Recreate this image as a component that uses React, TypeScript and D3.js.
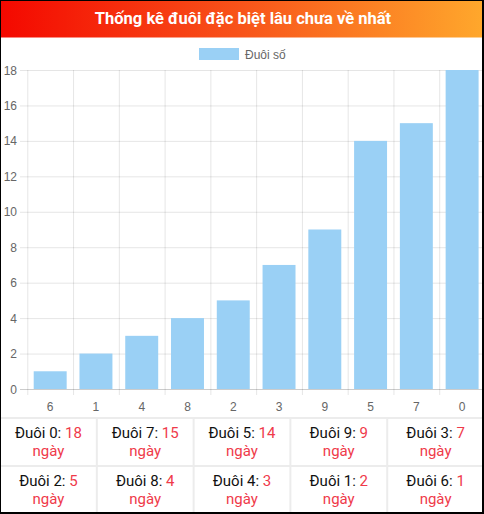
import React from "react";
import * as d3 from "d3";

const categories: string[] = ["6", "1", "4", "8", "2", "3", "9", "5", "7", "0"];
const values: number[] = [1, 2, 3, 4, 5, 7, 9, 14, 15, 18];
const yTicks: number[] = [0, 2, 4, 6, 8, 10, 12, 14, 16, 18];
const title = "Thống kê đuôi đặc biệt lâu chưa về nhất";
const legendLabel = "Đuôi số";

const W = 484;
const H = 514;
const plotLeft = 27.3;
const plotRight = 485;
const plotTop = 70;
const plotBottom = 389;
const barColor = "rgb(154,208,245)";
const gridColor = "rgba(0,0,0,0.1)";
const redText = "#ef3a4a";

export default function App() {
  React.useEffect(() => {
    document.body.style.margin = "0";
  }, []);

  const x = d3.scaleBand<string>().domain(categories).range([plotLeft, plotRight]).paddingInner(0).paddingOuter(0);
  const y = d3.scaleLinear().domain([0, 18]).range([plotBottom, plotTop]);
  const bw = x.bandwidth();
  const barW = bw * 0.72;

  // table: sorted by value descending
  const rows = categories
    .map((c, i) => ({ c, v: values[i] }))
    .sort((a, b) => b.v - a.v);
  const cols = 5;
  const tableTop = 418;
  const rowH = 48;
  const colX = d3.scaleLinear().domain([0, cols]).range([0, W]);

  const font = "Roboto, 'Liberation Sans', Arial, sans-serif";
  const chartFont = "'Liberation Sans', Arial, Helvetica, sans-serif";

  return (
    <svg width={W} height={H} style={{ position: "absolute", left: 0, top: 0, display: "block" }}>
      <defs>
        <linearGradient id="hdr" x1="0" x2="1" y1="0" y2="0">
          <stop offset="0%" stopColor="#f40800" />
          <stop offset="50%" stopColor="#f8541a" />
          <stop offset="100%" stopColor="#ffa82c" />
        </linearGradient>
        <clipPath id="clip">
          <rect x={0} y={0} width={W} height={H} />
        </clipPath>
      </defs>
      <rect x={0} y={0} width={W} height={H} fill="#fff" />
      <rect x={0} y={0} width={W} height={37.5} fill="url(#hdr)" />
      <text x={243} y={24} textAnchor="middle" fill="#fff" fontFamily={font} fontWeight="bold" fontSize={16.5}>
        {title}
      </text>

      {/* legend */}
      <rect x={199} y={48} width={40} height={12} fill={barColor} />
      <text x={245} y={58.5} fill="#666" fontFamily={chartFont} fontSize={12}>
        {legendLabel}
      </text>

      <g clipPath="url(#clip)">
        {/* horizontal grid */}
        {yTicks.map((t) => (
          <line key={"h" + t} x1={20} x2={plotRight} y1={y(t) + 0.5} y2={y(t) + 0.5} stroke={t === 0 ? "rgba(0,0,0,0.2)" : gridColor} strokeWidth={1} />
        ))}
        {/* vertical grid */}
        {categories.map((c) => (
          <line key={"v" + c} x1={(x(c) as number) + 0.5} x2={(x(c) as number) + 0.5} y1={plotTop} y2={plotBottom + 6} stroke={gridColor} strokeWidth={1} />
        ))}
        {/* bars */}
        {categories.map((c, i) => (
          <rect
            key={"b" + c}
            x={(x(c) as number) + (bw - barW) / 2}
            y={y(values[i])}
            width={barW}
            height={plotBottom - y(values[i])}
            fill={barColor}
          />
        ))}
      </g>

      {/* y labels */}
      {yTicks.map((t) => (
        <text key={"yl" + t} x={17} y={y(t) + 4.5} textAnchor="end" fill="#666" fontFamily={chartFont} fontSize={12}>
          {t}
        </text>
      ))}
      {/* x labels */}
      {categories.map((c) => (
        <text key={"xl" + c} x={(x(c) as number) + bw / 2} y={411} textAnchor="middle" fill="#666" fontFamily={chartFont} fontSize={12}>
          {c}
        </text>
      ))}

      {/* table */}
      {rows.map((r, i) => {
        const col = i % cols;
        const row = Math.floor(i / cols);
        const cx = (colX(col) + colX(col + 1)) / 2;
        const top = tableTop + row * rowH;
        return (
          <g key={"t" + r.c}>
            <text x={cx} y={top + 19.5} textAnchor="middle" fontFamily={font} fontSize={15} fill="#111">
              {"Đuôi " + r.c + ": "}
              <tspan fill={redText}>{r.v}</tspan>
            </text>
            <text x={cx} y={top + 38} textAnchor="middle" fontFamily={font} fontSize={15} fill={redText}>
              ngày
            </text>
          </g>
        );
      })}
      {/* table grid lines */}
      {[0, 1].map((r) => (
        <line key={"tr" + r} x1={0} x2={W} y1={tableTop + r * rowH} y2={tableTop + r * rowH} stroke="#ececec" strokeWidth={2} />
      ))}
      {d3.range(1, cols).map((c) => (
        <line key={"tc" + c} x1={colX(c)} x2={colX(c)} y1={tableTop} y2={H} stroke="#ececec" strokeWidth={2} />
      ))}

      {/* outer border */}
      <rect x={0.5} y={0.5} width={W - 1.5} height={H - 1.5} fill="none" stroke="#000" strokeWidth={1} />
      <line x1={W - 1} x2={W - 1} y1={0} y2={H} stroke="#000" strokeWidth={2} />
      <line x1={0} x2={W} y1={H - 1} y2={H - 1} stroke="#000" strokeWidth={2} />
    </svg>
  );
}
